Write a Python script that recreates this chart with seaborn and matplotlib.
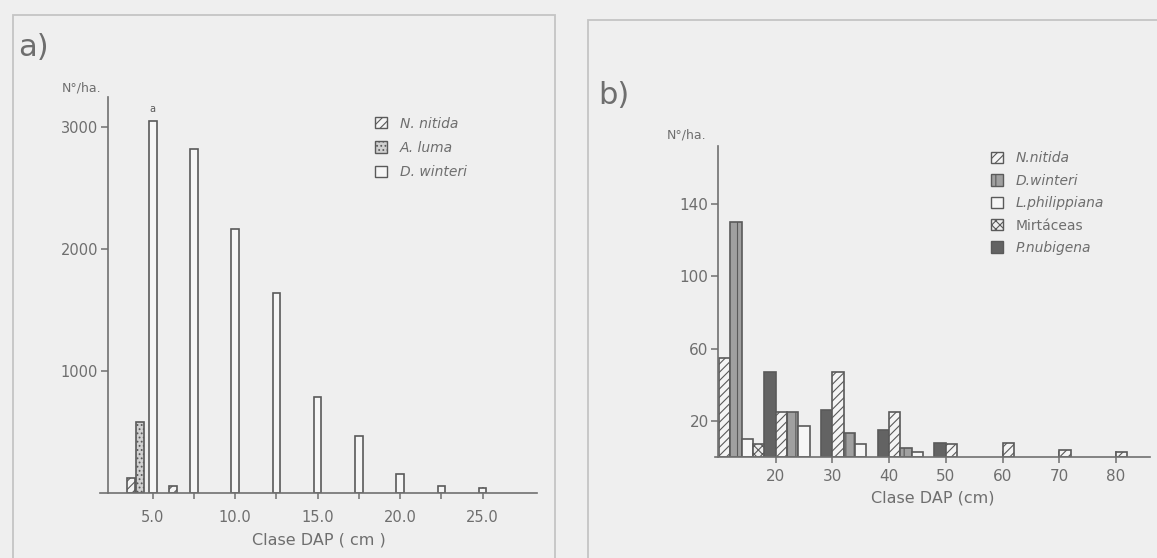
import numpy as np
import matplotlib
matplotlib.use("Agg")
import matplotlib.pyplot as plt
from matplotlib.patches import Patch, Rectangle
import seaborn as sns

# ---------------- panel a) : stems per hectare by diameter class ----------------
clases_a = [5.0, 7.5, 10.0, 12.5, 15.0, 17.5, 20.0, 22.5, 25.0]
d_winteri_a = [3050, 2820, 2165, 1640, 790, 470, 155, 55, 40]
a_luma_clases = [5.0]
a_luma_a = [580]
n_nitida_clases_a = [5.0, 7.5]
n_nitida_a = [120, 57]
xticks_a = [5.0, 10.0, 15.0, 20.0, 25.0]
xticklabels_a = ["5.0", "10.0", "15.0", "20.0", "25.0"]
xminor_a = [7.5, 12.5, 17.5, 22.5]
yticks_a = [1000, 2000, 3000]
species_a = ["N. nitida", "A. luma", "D. winteri"]

# ---------------- panel b) ----------------
n_nitida_clases_b = [10, 20, 30, 40, 50, 60, 70, 80]
n_nitida_b = [55, 25, 47, 25, 7, 8, 4, 3]
d_winteri_clases_b = [10, 20, 30, 40]
d_winteri_b = [130, 25, 13, 5]
l_phil_clases_b = [10, 20, 30, 40]
l_phil_b = [10, 17, 7, 3]
mirt_clases_b = [10]
mirt_b = [7]
p_nub_clases_b = [20, 30, 40, 50]
p_nub_b = [47, 26, 15, 8]
xticks_b = [20, 30, 40, 50, 60, 70, 80]
yticks_b = [20, 60, 100, 140]
species_b = ["N.nitida", "D.winteri", "L.philippiana", "Mirtáceas", "P.nubigena"]

# ---------------- styling ----------------
W, H, DPI = 1157, 558, 100
BG = "#efefef"
INK = "#5a5a5a"
TXT = "#6e6e6e"

sns.set_theme(style="white")
plt.rcParams["font.family"] = ["DejaVu Sans"]
plt.rcParams["hatch.linewidth"] = 0.8
plt.rcParams["hatch.color"] = INK

fig = plt.figure(figsize=(W / DPI, H / DPI), dpi=DPI, facecolor=BG)


def axes_px(left, right, top, bottom):
    """Create axes from pixel extents (y measured from the top)."""
    return fig.add_axes([left / W, 1 - bottom / H, (right - left) / W, (bottom - top) / H])


def bars(ax, x, y, offset, width, **style):
    x = np.asarray(x, dtype=float) + offset
    ux = np.unique(x)
    native = np.min(np.diff(ux)) if len(ux) > 1 else 1.0
    sns.barplot(x=x, y=y, native_scale=True, width=width / native, errorbar=None,
                saturation=1, linewidth=1.2, edgecolor=INK, ax=ax, **style)


styles_a = {
    "N. nitida": dict(color="#f4f4f4", hatch="////"),
    "A. luma": dict(color="#d0d0d0", hatch="...."),
    "D. winteri": dict(color="#f6f6f6"),
}
styles_b = {
    "N.nitida": dict(color="#f4f4f4", hatch="////"),
    "D.winteri": dict(color="#a0a0a0", hatch="||"),
    "L.philippiana": dict(color="#f6f6f6"),
    "Mirtáceas": dict(color="#eeeeee", hatch="xxxx"),
    "P.nubigena": dict(color="#636363"),
}


def frame(ax):
    ax.set_facecolor("none")
    for s in ("top", "right"):
        ax.spines[s].set_visible(False)
    for s in ("left", "bottom"):
        ax.spines[s].set_color("#707070")
        ax.spines[s].set_linewidth(1.2)


# panel borders
fig.patches.append(Rectangle((13 / W, -0.1), (555 - 13) / W, 1.1 - 15 / H,
                             transform=fig.transFigure, fill=False, ec="#c4c4c4", lw=1.3))
fig.patches.append(Rectangle((588 / W, -0.1), 1.0, 1.1 - 20 / H,
                             transform=fig.transFigure, fill=False, ec="#c4c4c4", lw=1.3))

# ---------------- panel a ----------------
ax1 = axes_px(100, 537, 97, 493)
bars(ax1, n_nitida_clases_a, n_nitida_a, -1.3, 0.48, **styles_a["N. nitida"])
bars(ax1, a_luma_clases, a_luma_a, -0.75, 0.48, **styles_a["A. luma"])
bars(ax1, clases_a, d_winteri_a, 0.0, 0.46, **styles_a["D. winteri"])
ax1.set_xlim(1.8, 28.3)
ax1.set_ylim(0, 3250)
frame(ax1)
ax1.spines["left"].set_position(("data", 2.27))
ax1.set_xticks(xticks_a, xticklabels_a)
ax1.set_xticks(xminor_a, minor=True)
ax1.set_yticks(yticks_a, [str(v) for v in yticks_a])
ax1.tick_params(axis="x", which="both", direction="inout", length=9, width=1.1,
                color="#707070", labelsize=10.5, labelcolor=TXT, pad=8, bottom=True)
ax1.tick_params(axis="y", direction="out", length=5, width=1.1, color="#707070",
                labelsize=10.5, labelcolor=TXT, pad=2, left=True)
ax1.set_xlabel("Clase DAP ( cm )", fontsize=11.5, color=TXT, labelpad=5)
ax1.set_ylabel("")
ax1.text(5.0, 3110, "a", ha="center", va="bottom", fontsize=7, color=INK)

leg1 = ax1.legend(handles=[Patch(facecolor=styles_a[s]["color"], hatch=styles_a[s].get("hatch"),
                                 edgecolor=INK, lw=1.0, label=s) for s in species_a],
                  loc="upper left", bbox_to_anchor=(362 / W, 1 - 104 / H),
                  bbox_transform=fig.transFigure, frameon=False, handlelength=0.9,
                  handleheight=0.9, handletextpad=0.9, labelspacing=0.75,
                  prop=dict(style="italic", size=10))
for t in leg1.get_texts():
    t.set_color(TXT)

fig.text(18 / W, 1 - 48 / H, "a)", fontsize=22, color=TXT, va="center", ha="left")
fig.text(62 / W, 1 - 88 / H, "N°/ha.", fontsize=9, color=TXT, va="center", ha="left")

# ---------------- panel b ----------------
ax2 = axes_px(715, 1150, 146, 457)
bars(ax2, p_nub_clases_b, p_nub_b, -1.0, 2.0, **styles_b["P.nubigena"])
bars(ax2, n_nitida_clases_b, n_nitida_b, 1.0, 2.0, **styles_b["N.nitida"])
bars(ax2, d_winteri_clases_b, d_winteri_b, 3.0, 2.0, **styles_b["D.winteri"])
bars(ax2, l_phil_clases_b, l_phil_b, 5.0, 2.0, **styles_b["L.philippiana"])
bars(ax2, mirt_clases_b, mirt_b, 7.0, 2.0, **styles_b["Mirtáceas"])
ax2.set_xlim(9.3, 86.0)
ax2.set_ylim(0, 172)
frame(ax2)
ax2.spines["left"].set_position(("data", 9.9))
ax2.set_xticks(xticks_b, [str(v) for v in xticks_b])
ax2.set_yticks(yticks_b, [str(v) for v in yticks_b])
ax2.tick_params(axis="x", direction="inout", length=9, width=1.1, color="#707070",
                labelsize=11, labelcolor=TXT, pad=4, bottom=True)
ax2.tick_params(axis="y", direction="out", length=5, width=1.1, color="#707070",
                labelsize=11, labelcolor=TXT, pad=2, left=True)
ax2.set_xlabel("Clase DAP (cm)", fontsize=11.5, color=TXT, labelpad=5)
ax2.set_ylabel("")

leg2 = ax2.legend(handles=[Patch(facecolor=styles_b[s]["color"], hatch=styles_b[s].get("hatch"),
                                 edgecolor=INK, lw=1.0, label=s) for s in species_b],
                  loc="upper left", bbox_to_anchor=(978 / W, 1 - 139 / H),
                  bbox_transform=fig.transFigure, frameon=False, handlelength=0.9,
                  handleheight=0.9, handletextpad=0.9, labelspacing=0.6,
                  prop=dict(style="italic", size=10))
for t in leg2.get_texts():
    t.set_color(TXT)
leg2.get_texts()[3].set_fontstyle("normal")

fig.text(598 / W, 1 - 95 / H, "b)", fontsize=22, color=TXT, va="center", ha="left")
fig.text(667 / W, 1 - 135 / H, "N°/ha.", fontsize=9, color=TXT, va="center", ha="left")

fig.savefig("out.png", dpi=DPI, facecolor=BG)
